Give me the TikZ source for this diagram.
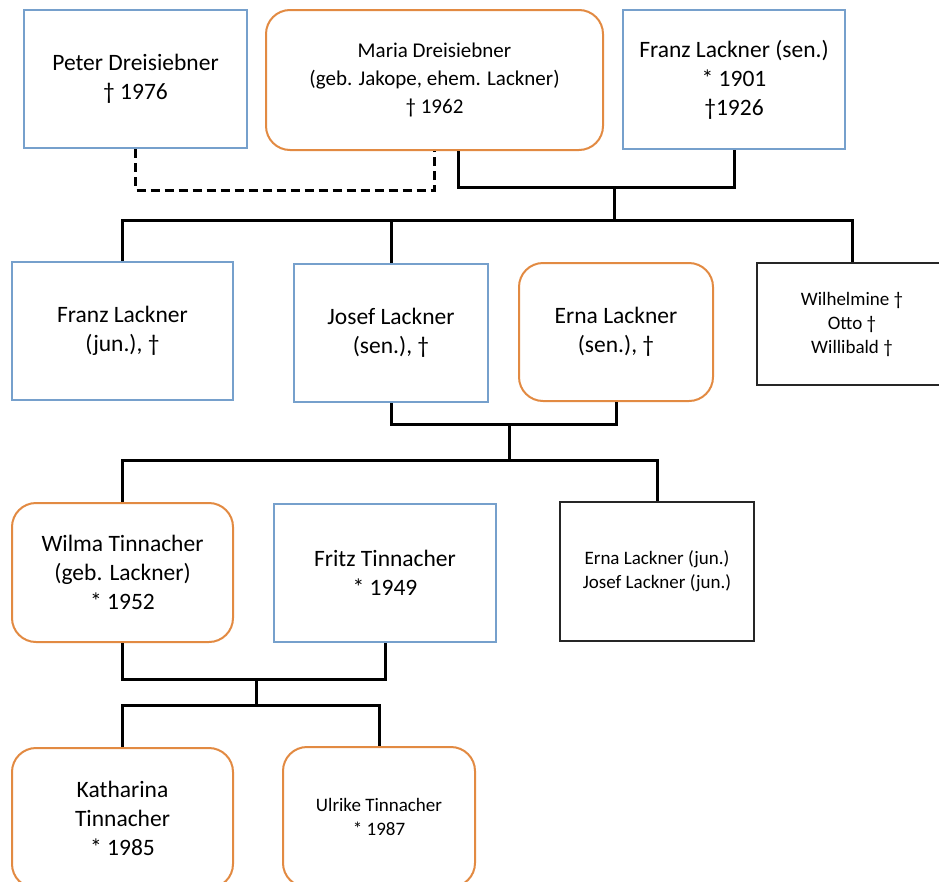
\documentclass[tikz,border=0pt]{standalone}
\usepackage{fontspec}
\setmainfont{Carlito}
\usetikzlibrary{calc}
\definecolor{manblue}{RGB}{118,160,204}
\definecolor{womanorange}{RGB}{226,138,66}
\tikzset{
  person/.style={draw, line width=2pt, align=center, inner sep=0pt, font=\fontsize{23.5}{29}\selectfont, fill=white},
  manbox/.style={person, draw=manblue},
  womanbox/.style={person, draw=womanorange, rounded corners=24pt},
  smalltext/.style={font=\fontsize{19}{24}\selectfont},
  groupbox/.style={person, draw=black!85, smalltext},
  conn/.style={line width=3pt, black, line join=miter},
  exconn/.style={conn, dash pattern=on 9pt off 5pt}
}
\begin{document}
\begin{tikzpicture}[x=1pt,y=-1pt]
\useasboundingbox (0,0) rectangle (939,881);
% generation 1
\node[manbox, minimum width=223pt, minimum height=138pt] (peter) at (135.5,79) {Peter Dreisiebner\\† 1976};
\node[womanbox, minimum width=337pt, minimum height=140pt, font=\fontsize{21}{28}\selectfont] (maria) at (434.5,80) {Maria Dreisiebner\\(geb. Jakope, ehem. Lackner)\\† 1962};
\node[manbox, minimum width=222pt, minimum height=139pt] (franzsen) at (734,79.5) {Franz Lackner (sen.)\\* 1901\\†1926};
% generation 2
\node[manbox, minimum width=221pt, minimum height=138pt] (franzjun) at (122.5,331) {Franz Lackner\\(jun.), †};
\node[manbox, minimum width=194pt, minimum height=138pt] (josef) at (391,333) {Josef Lackner\\(sen.), †};
\node[womanbox, minimum width=194pt, minimum height=138pt] (erna) at (616,332) {Erna Lackner\\(sen.), †};
\node[groupbox, minimum width=190pt, minimum height=122pt] (wilh) at (852,324) {Wilhelmine †\\Otto †\\Willibald †};
% generation 3
\node[womanbox, minimum width=221pt, minimum height=139pt] (wilma) at (122.5,572.5) {Wilma Tinnacher\\(geb. Lackner)\\* 1952};
\node[manbox, minimum width=222pt, minimum height=138pt] (fritz) at (385,573) {Fritz Tinnacher\\* 1949};
\node[groupbox, minimum width=194pt, minimum height=139pt] (ernajun) at (657,571.5) {Erna Lackner (jun.)\\Josef Lackner (jun.)};
% generation 4
\node[womanbox, minimum width=221pt, minimum height=140pt] (kath) at (122.5,818) {Katharina\\Tinnacher\\* 1985};
\node[womanbox, minimum width=192pt, minimum height=140pt, smalltext] (ulrike) at (379,817) {Ulrike Tinnacher\\* 1987};
% junction points
\coordinate (d1) at (300,190);
\coordinate (m2) at ([xshift=23.5pt]maria.south);
\coordinate (j1) at (614,187);
\coordinate (r2) at (614,220);
\coordinate (j2) at (509,424);
\coordinate (r3) at (509,460);
\coordinate (j3) at (256,679);
\coordinate (r4) at (256,705);
% first marriage (dashed) and second marriage
\draw[exconn] (peter.south) |- (d1) -| (maria.south);
\draw[conn] (m2) |- (j1) -| (franzsen.south);
\draw[conn] (j1) -- (r2);
\draw[conn] (franzjun.north) |- (r2) -| (wilh.north);
\draw[conn] (josef.north) -- (josef.north |- r2);
% Josef and Erna
\draw[conn] (josef.south) |- (j2) -| (erna.south);
\draw[conn] (j2) -- (r3);
\draw[conn] (wilma.north) |- (r3) -| (ernajun.north);
% Wilma and Fritz
\draw[conn] (wilma.south) |- (j3) -| (fritz.south);
\draw[conn] (j3) -- (r4);
\draw[conn] (kath.north) |- (r4) -| (ulrike.north);
\end{tikzpicture}
\end{document}
